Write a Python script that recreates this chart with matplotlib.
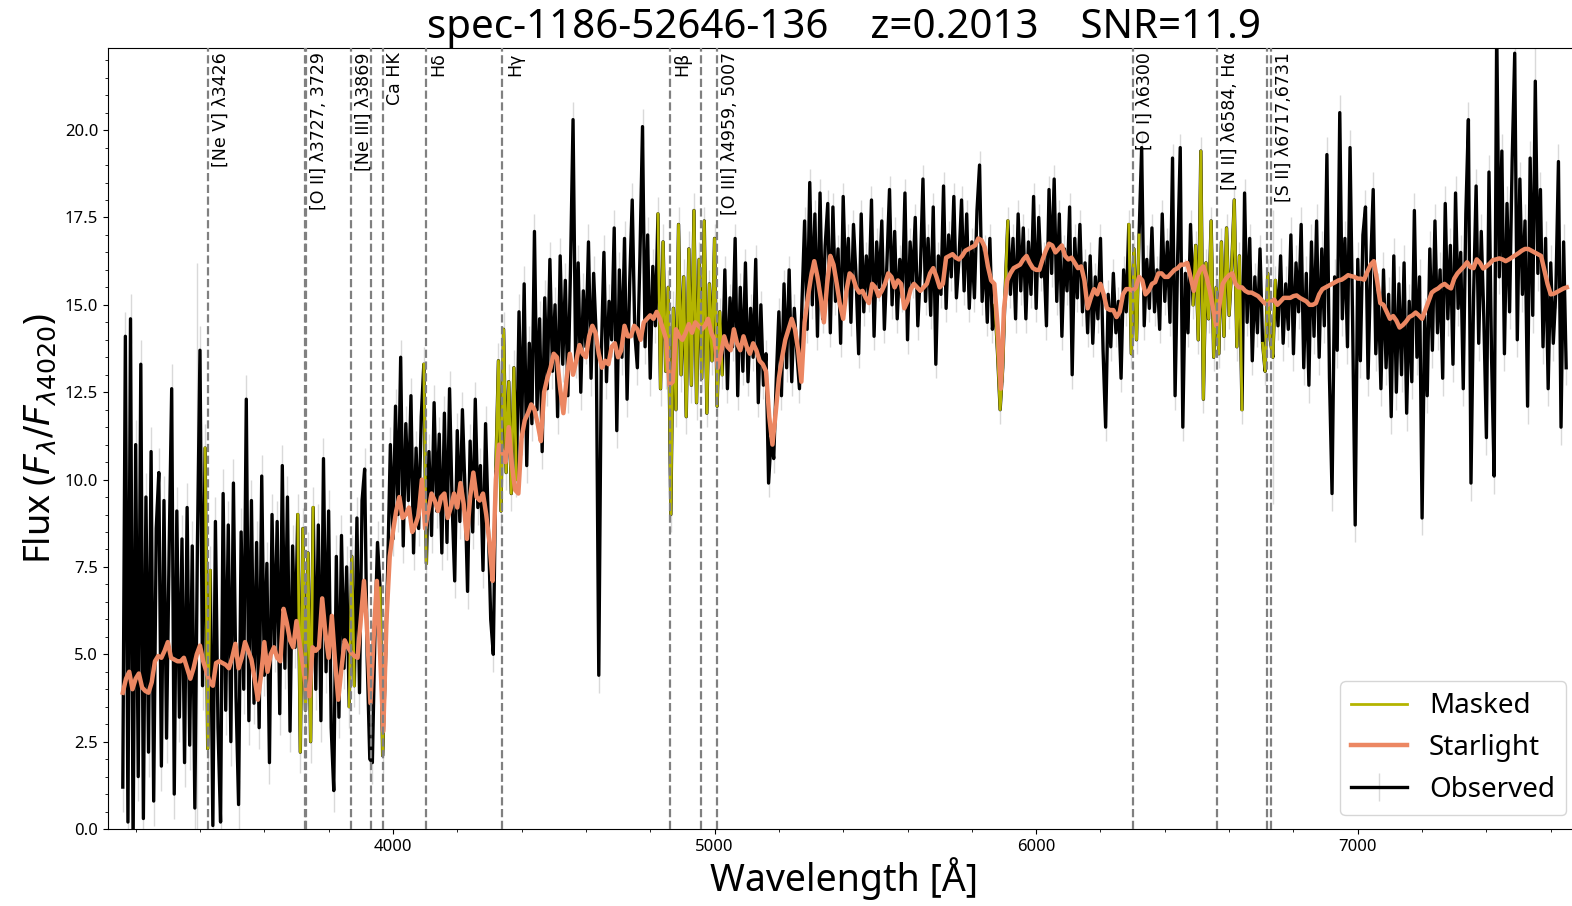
import numpy as np
import matplotlib
matplotlib.use("Agg")
import matplotlib.pyplot as plt
from matplotlib.ticker import MultipleLocator

plt.rcParams["font.family"] = ["Noto Sans", "DejaVu Sans"]

title = "spec-1186-52646-136    z=0.2013    SNR=11.9"

# observed spectrum, rest frame, 8 A sampling starting at 3160 A (one row = 200 A)
obs_start, obs_step = 3160, 8
obs_flux = np.array([
    1.2, 14.1, 0.2, 14.6, -0.5, 11.0, 1.5, 13.3, 0.3, 9.5, 2.2, 10.8, 0.8, 8.6, 10.2, 1.8, 9.4, 2.6, 7.9, 12.6, 1.0, 9.1, 3.2, 8.3, 1.9,
    9.2, 2.4, 8.1, 0.6, 8.1, 13.7, 4.1, 10.9, 2.3, 7.4, 0.1, 8.8, 2.9, 0.2, 9.6, 3.4, 8.7, 2.5, 9.9, 3.8, 0.7, 8.5, 4.0, 12.3, 3.1,
    9.4, 3.6, 8.2, 2.9, 10.1, 4.4, 7.6, 1.9, 9.0, 5.1, 8.8, 3.3, 10.4, 4.6, 9.5, 2.8, 8.1, 5.2, 9.0, 2.2, 8.6, 3.4, 7.9, 2.5, 9.2,
    4.0, 8.7, 3.1, 10.6, 4.5, 9.1, 2.9, 1.1, 7.8, 3.2, 8.4, 4.6, 7.5, 3.5, 7.8, 4.1, 8.9, 3.9, 9.4, 10.3, 4.8, 2.0, 1.9, 5.6, 8.2,
    6.9, 2.1, 4.5, 7.6, 11.0, 8.3, 12.1, 9.0, 13.5, 8.1, 11.6, 9.4, 12.4, 7.9, 10.9, 8.6, 11.8, 13.3, 7.6, 10.8, 8.4, 12.2, 9.1, 11.3, 7.9,
    11.9, 8.2, 12.6, 9.3, 7.1, 11.4, 8.8, 12.0, 9.7, 6.8, 11.1, 8.5, 12.3, 9.2, 10.4, 7.4, 11.6, 8.9, 6.0, 5.0, 10.3, 13.4, 9.1, 14.3, 10.2,
    12.8, 9.6, 13.2, 10.0, 14.8, 11.2, 15.6, 10.4, 13.9, 11.6, 17.1, 12.0, 14.6, 10.8, 15.2, 12.6, 16.3, 13.1, 15.0, 11.8, 16.4, 13.3, 15.7, 12.4, 16.0,
    20.3, 13.4, 16.2, 12.5, 15.4, 13.8, 16.8, 12.9, 15.9, 14.1, 4.4, 13.6, 16.5, 12.8, 15.1, 14.0, 17.2, 11.4, 16.0, 13.5, 16.9, 12.3, 15.6, 18.0, 14.2,
    13.2, 16.4, 20.1, 13.8, 17.0, 12.9, 16.1, 14.4, 17.6, 12.6, 16.8, 13.1, 15.5, 9.0, 14.9, 12.0, 17.3, 13.0, 15.8, 11.8, 16.6, 12.7, 17.7, 12.2, 16.3,
    12.9, 17.4, 11.9, 15.6, 13.4, 16.9, 12.1, 14.8, 13.0, 16.0, 12.6, 15.2, 13.8, 16.9, 12.4, 15.5, 13.1, 16.2, 12.8, 14.9, 13.5, 16.3, 12.2, 15.0, 12.7,
    13.6, 9.9, 11.2, 10.6, 12.9, 14.8, 12.4, 15.6, 13.2, 16.0, 12.8, 14.9, 13.6, 12.6, 15.1, 17.4, 14.3, 18.5, 15.0, 17.6, 14.1, 18.2, 14.6, 16.7, 17.9,
    14.2, 17.8, 15.1, 16.6, 13.9, 18.1, 15.4, 16.9, 14.5, 17.3, 15.8, 13.6, 17.6, 14.8, 16.4, 15.2, 18.0, 14.1, 16.8, 15.5, 17.4, 14.3, 16.2, 18.3, 15.0,
    17.1, 14.6, 16.3, 15.2, 18.2, 14.0, 16.8, 15.6, 17.5, 14.4, 16.0, 18.6, 15.1, 16.9, 14.7, 17.8, 13.3, 16.4, 15.3, 18.4, 14.9, 17.0, 15.8, 18.1, 15.2,
    16.3, 18.0, 15.4, 17.6, 14.9, 16.8, 15.2, 17.7, 19.0, 15.1, 16.6, 14.5, 16.9, 14.3, 15.0, 13.6, 12.0, 13.2, 15.5, 17.4, 15.3, 16.9, 14.6, 17.6, 15.4,
    17.2, 14.6, 16.8, 15.3, 18.1, 14.9, 17.5, 15.8, 16.4, 14.4, 18.3, 15.9, 18.6, 15.1, 17.6, 14.1, 16.6, 15.4, 17.8, 13.0, 16.9, 15.2, 17.3, 14.8, 16.2,
    14.2, 16.4, 13.9, 15.8, 14.6, 16.9, 13.7, 11.5, 15.3, 13.8, 15.9, 14.2, 15.1, 12.9, 16.0, 14.8, 17.3, 13.6, 16.6, 14.0, 17.0, 19.5, 14.4, 16.3, 14.9,
    17.2, 14.8, 16.0, 14.3, 17.6, 15.1, 16.8, 14.5, 19.2, 12.4, 16.4, 19.5, 11.5, 15.9, 14.2, 17.3, 15.0, 16.7, 14.0, 19.4, 12.3, 16.2, 14.6, 17.4, 13.5,
    15.5, 13.6, 16.8, 14.1, 17.2, 14.7, 16.1, 18.0, 13.8, 16.4, 12.0, 18.2, 14.5, 16.9, 13.4, 15.8, 14.2, 16.6, 13.9, 13.1, 15.9, 14.0, 13.5, 15.7, 14.4,
    16.4, 13.9, 15.6, 14.3, 17.0, 13.6, 16.2, 14.8, 17.3, 13.2, 15.9, 12.7, 16.8, 14.1, 17.4, 13.5, 16.6, 14.4, 19.3, 12.9, 9.6, 15.8, 13.7, 20.5, 14.6,
    16.9, 13.8, 19.5, 14.5, 8.7, 16.3, 13.4, 17.0, 17.8, 12.9, 16.1, 18.3, 13.6, 15.4, 12.6, 16.0, 13.2, 15.3, 11.8, 16.4, 12.5, 15.6, 13.0, 16.2, 11.9,
    15.1, 12.8, 17.7, 13.5, 15.8, 8.9, 14.7, 12.4, 16.6, 13.7, 17.4, 14.2, 16.0, 12.9, 17.9, 14.6, 16.7, 13.3, 18.2, 14.9, 16.5, 12.6, 17.6, 20.3, 9.9,
    15.2, 18.4, 13.9, 17.1, 14.6, 11.2, 18.8, 13.5, 10.1, 23.0, 15.8, 19.4, 13.6, 17.9, 14.8, 19.1, 22.2, 14.0, 18.6, 15.3, 17.4, 12.1, 19.2, 14.7, 21.4,
    15.9, 18.3, 13.8, 16.9, 12.6, 16.2, 13.9, 15.4, 19.1, 11.5, 16.8, 13.2,
])
# 1-sigma error, one value per 200 A row above
obs_err_block = [0.7, 0.7, 0.6, 0.6, 0.5, 0.5, 0.5, 0.5, 0.5, 0.4, 0.4, 0.4,
                 0.4, 0.4, 0.4, 0.4, 0.4, 0.4, 0.5, 0.5, 0.5, 0.5, 0.5]
# pixels with very large errors
wide_err_wave = [3392, 6736, 7552]
wide_err = [8.1, 4.2, 1.6]

# STARLIGHT synthetic spectrum, 10 A sampling starting at 3160 A (one row = 100 A)
syn_start, syn_step = 3160, 10
syn_flux = np.array([
    3.9, 4.3, 4.5, 4.0, 4.3, 4.45, 4.05, 3.95, 3.9, 4.2,
    4.8, 4.95, 4.9, 5.1, 5.35, 4.9, 4.85, 4.8, 4.8, 4.9,
    4.6, 4.3, 4.6, 5.0, 5.25, 4.8, 4.5, 4.2, 4.1, 4.75,
    4.8, 4.75, 4.7, 4.6, 4.9, 5.3, 4.6, 4.9, 5.35, 5.1,
    4.85, 4.3, 3.7, 4.4, 5.35, 4.5, 5.0, 5.2, 4.9, 4.8,
    6.3, 5.9, 5.4, 5.2, 5.95, 5.3, 4.7, 4.0, 3.8, 5.2,
    5.1, 5.2, 6.6, 5.6, 4.9, 6.1, 4.8, 3.7, 4.6, 5.4,
    5.2, 5.05, 4.95, 4.9, 6.0, 7.1, 5.6, 3.6, 5.5, 7.1,
    5.0, 2.8, 6.0, 7.8, 8.5, 9.1, 9.5, 8.9, 9.0, 9.2,
    8.5, 8.7, 9.0, 10.0, 8.6, 9.1, 9.6, 9.4, 9.1, 9.5,
    9.6, 8.9, 9.2, 9.6, 9.2, 9.9, 9.3, 8.3, 9.5, 10.2,
    9.5, 9.4, 9.6, 9.0, 8.2, 7.1, 10.0, 11.0, 10.8, 10.5,
    11.5, 10.4, 9.7, 9.6, 11.2, 11.7, 11.9, 12.15, 12.0, 11.6,
    11.1, 12.5, 12.9, 13.2, 13.6, 13.5, 12.6, 11.9, 12.9, 13.6,
    13.0, 13.4, 13.85, 13.6, 13.5, 14.1, 14.4, 14.2, 13.6, 13.2,
    13.4, 13.3, 13.8, 13.9, 13.5, 13.7, 14.4, 14.1, 14.1, 14.4,
    14.3, 14.0, 14.5, 14.6, 14.7, 14.6, 14.8, 14.6, 14.3, 14.0,
    12.7, 12.8, 14.3, 14.1, 14.0, 14.2, 14.45, 14.2, 14.5, 14.4,
    14.3, 14.4, 14.6, 14.2, 14.0, 13.2, 13.6, 14.1, 13.8, 13.7,
    14.3, 13.9, 13.7, 14.1, 13.8, 13.6, 13.9, 13.7, 13.4, 13.3,
    13.1, 11.8, 11.0, 11.9, 12.9, 13.5, 14.0, 14.3, 14.6, 14.3,
    13.7, 12.8, 14.5, 15.2, 15.8, 16.25, 15.8, 15.2, 14.5, 15.6,
    16.4, 16.15, 15.6, 15.0, 14.6, 15.4, 15.9, 15.8, 15.5, 15.35,
    15.4, 15.2, 15.05, 15.6, 15.5, 15.25, 15.4, 15.6, 15.9, 15.8,
    15.5, 15.7, 15.6, 14.9, 15.1, 15.45, 15.6, 15.5, 15.4, 15.5,
    15.6, 15.9, 16.05, 15.8, 15.5, 15.6, 16.35, 16.4, 16.45, 16.35,
    16.3, 16.4, 16.55, 16.6, 16.65, 16.7, 16.9, 16.85, 16.65, 16.1,
    15.7, 15.6, 14.4, 12.6, 14.9, 15.7, 15.9, 16.05, 16.1, 16.15,
    16.3, 16.4, 16.2, 16.05, 16.0, 16.0, 16.3, 16.55, 16.75, 16.7,
    16.5, 16.6, 16.7, 16.4, 16.3, 16.35, 16.2, 16.05, 16.1, 15.7,
    14.9, 15.2, 15.45, 15.3, 15.6, 15.3, 14.9, 14.85, 14.85, 14.65,
    14.8, 15.3, 15.45, 15.45, 15.4, 15.5, 15.8, 15.7, 15.3, 15.4,
    15.6, 15.65, 15.9, 15.9, 15.8, 15.8, 15.9, 16.0, 16.05, 16.15,
    16.15, 16.2, 15.8, 15.4, 15.8, 16.0, 16.1, 15.8, 15.4, 14.9,
    14.4, 15.0, 15.6, 15.75, 15.85, 15.9, 15.6, 15.5, 15.5, 15.4,
    15.35, 15.35, 15.3, 15.25, 15.15, 15.05, 15.0, 15.1, 15.15, 15.0,
    15.1, 15.2, 15.2, 15.2, 15.25, 15.27, 15.2, 15.15, 15.1, 15.0,
    15.0, 15.05, 15.3, 15.45, 15.5, 15.55, 15.6, 15.65, 15.7, 15.72,
    15.78, 15.85, 15.82, 15.8, 15.75, 15.75, 15.72, 15.95, 16.15, 16.25,
    15.7, 15.05, 15.0, 14.8, 14.6, 14.68, 14.55, 14.35, 14.42, 14.52,
    14.65, 14.7, 14.78, 14.7, 14.6, 14.85, 15.1, 15.35, 15.42, 15.47,
    15.55, 15.6, 15.52, 15.47, 15.75, 15.9, 16.0, 16.1, 16.22, 16.08,
    16.05, 16.3, 16.2, 16.04, 16.1, 16.18, 16.28, 16.3, 16.33, 16.3,
    16.25, 16.3, 16.36, 16.42, 16.48, 16.55, 16.6, 16.6, 16.55, 16.5,
    16.45, 16.4, 16.0, 15.6, 15.3, 15.32, 15.37, 15.42, 15.47, 15.5,
])

# wavelength windows masked in the fit
mask_lo = [3414, 3699, 3859, 3955, 4093, 4313, 4821, 5866, 6282, 6488, 6699]
mask_hi = [3435, 3756, 3880, 3976, 4111, 4385, 5028, 5913, 6325, 6646, 6747]

# reference lines
line_waves = [3426, 3727, 3729, 3869, 3933, 3969, 4102, 4340, 4861, 4959, 5007,
              6300, 6563, 6717, 6731]
label_waves = [3426, 3729, 3869, 3969, 4102, 4340, 4861, 5007, 6300, 6563, 6731]
label_names = ["[Ne V] λ3426", "[O II] λ3727, 3729", "[Ne III] λ3869", "Ca HK",
               "Hδ", "Hγ", "Hβ", "[O III] λ4959, 5007", "[O I] λ6300",
               "[N II] λ6584, Hα", "[S II] λ6717,6731"]

obs_wave = obs_start + obs_step * np.arange(obs_flux.size)
syn_wave = syn_start + syn_step * np.arange(syn_flux.size)
obs_err = np.repeat(obs_err_block, 25)[:obs_flux.size].astype(float)
for w, e in zip(wide_err_wave, wide_err):
    obs_err[obs_wave == w] = e

in_mask = np.zeros(obs_wave.size, dtype=bool)
for lo, hi in zip(mask_lo, mask_hi):
    in_mask |= (obs_wave >= lo) & (obs_wave <= hi)
masked_flux = np.where(in_mask, obs_flux, np.nan)

fig = plt.figure(figsize=(15.72, 9.06), dpi=100)
ax = fig.add_axes([108 / 1572, 77 / 906, 1472 / 1572, 781 / 906])

ax.errorbar(obs_wave, obs_flux, yerr=obs_err, color="k", ecolor="0.85",
            elinewidth=1.0, lw=2.4, label="Observed")
ax.plot(obs_wave, masked_flux, color="#b4b400", lw=2.0, label="Masked", zorder=3)
ax.plot(syn_wave, syn_flux, color="#ec8762", lw=3.2, label="Starlight", zorder=4)

for w in line_waves:
    ax.axvline(w, color="gray", ls="--", lw=1.6, zorder=5)
for w, name in zip(label_waves, label_names):
    ax.annotate(name, xy=(w, 1), xycoords=ax.get_xaxis_transform(),
                xytext=(2.5, -3), textcoords="offset points",
                rotation=90, ha="left", va="top", fontsize=12.5,
                family=["DejaVu Sans"], zorder=6)

ax.set_xlim(3114, 7691)
ax.set_ylim(0, 22.35)
ax.xaxis.set_major_locator(MultipleLocator(1000))
ax.xaxis.set_minor_locator(MultipleLocator(200))
ax.yaxis.set_major_locator(MultipleLocator(2.5))
ax.yaxis.set_minor_locator(MultipleLocator(0.5))
ax.tick_params(labelsize=12)

ax.set_title(title, fontsize=29, pad=5)
ax.set_xlabel("Wavelength [Å]", fontsize=27, labelpad=2)
ax.set_ylabel(r"Flux ($F_\lambda/F_{\lambda4020}$)", fontsize=26)
ax.legend(loc="lower right", fontsize=20)

fig.savefig("out.png", dpi=100)
plt.close(fig)
